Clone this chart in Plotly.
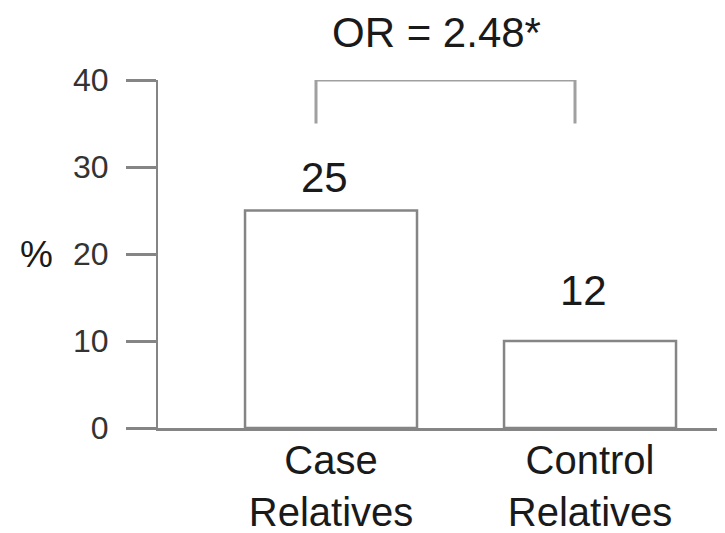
import plotly.graph_objects as go

categories = ["Case<br>Relatives", "Control<br>Relatives"]
bar_values = [25, 10]
bar_labels = ["25", "12"]
y_ticks = [0, 10, 20, 30, 40]
y_tick_labels = ["0", "10", "20", "30", "40"]
or_text = "OR = 2.48*"
y_unit = "%"

FONT = "Liberation Sans, Arial, sans-serif"
AXIS = "#858585"

idx = list(range(len(categories)))

fig = go.Figure()
fig.add_trace(go.Bar(
    x=idx, y=bar_values, width=0.664,
    marker=dict(color="white", line=dict(color=AXIS, width=2.5)),
    hoverinfo="skip", showlegend=False,
))

for i, lab in zip(idx, bar_labels):
    fig.add_annotation(x=i, y=float(lab), text=lab, showarrow=False,
                       yanchor="middle", yshift=33, xshift=-7,
                       font=dict(family=FONT, size=42, color="#1a1a1a"))

# bracket
bl, br = idx[0] - 0.058, idx[1] - 0.058
btop, bbot = 40, 35
fig.add_shape(type="path", xref="x", yref="y",
              path=f"M {bl} {bbot} L {bl} {btop} L {br} {btop} L {br} {bbot}",
              line=dict(color="#a0a0a0", width=3))
fig.add_annotation(x=(bl + br) / 2, y=btop, text=or_text, showarrow=False,
                   yanchor="middle", yshift=48, xshift=-9,
                   font=dict(family=FONT, size=42, color="#1a1a1a"))

fig.add_annotation(xref="paper", x=0, y=20, text=y_unit, showarrow=False,
                   xanchor="right", xshift=-103, yanchor="middle",
                   font=dict(family=FONT, size=37, color="#1a1a1a"))

# page body adds an 8px offset; margins compensate so the plot area lands at (158, 80)-(725+, 428)
fig.update_layout(
    width=725, height=533,
    margin=dict(l=150, r=0, t=72, b=113),
    paper_bgcolor="white", plot_bgcolor="white",
    xaxis=dict(range=[-0.668, 1.552], tickvals=idx, ticktext=categories,
               automargin=False,
               showline=True, linecolor=AXIS, linewidth=3, ticks="",
               ticklabelstandoff=-5,
               showgrid=False, zeroline=False,
               tickfont=dict(family=FONT, size=40, color="#1a1a1a")),
    yaxis=dict(range=[0, 40], tickvals=y_ticks, ticktext=y_tick_labels,
               automargin=False,
               showline=True, linecolor=AXIS, linewidth=2,
               ticks="outside", ticklen=30, tickwidth=2.5, tickcolor=AXIS,
               ticklabelstandoff=11,
               showgrid=False, zeroline=False,
               tickfont=dict(family=FONT, size=32, color="#333333")),
)

fig.write_html("out.html")
